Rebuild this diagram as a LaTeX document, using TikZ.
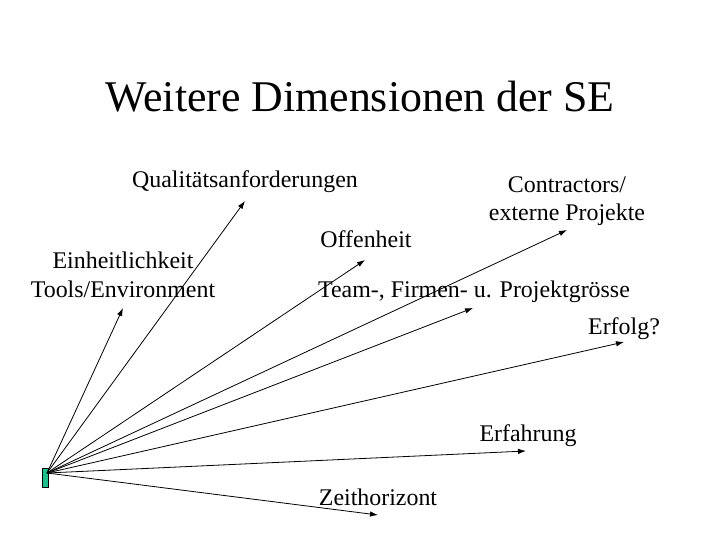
\documentclass[tikz,border=0pt]{standalone}
\usepackage{fontspec}
\setmainfont{LiberationSerif}[Extension=.ttf, UprightFont=*-Regular, BoldFont=*-Bold]
\usetikzlibrary{arrows.meta, positioning}
\definecolor{boxgreen}{RGB}{32,190,140}

\begin{document}
\begin{tikzpicture}[x=1bp, y=-1bp,
	lbl/.style={font=\fontsize{24}{29}\selectfont, align=center, inner sep=0pt, anchor=base},
	dim/.style={-{Latex[length=8bp, width=5.5bp]}, line width=0.8bp}]
	\useasboundingbox (0,0) rectangle (720,540);
	% title
	\node[font=\fontsize{44}{50}\selectfont, inner sep=0pt, anchor=base] (title) at (360,112) {Weitere Dimensionen der SE};
	% starting point
	\node[draw, fill=boxgreen, line width=0.6bp, minimum width=5.6bp, minimum height=19bp, inner sep=0pt] (box) at (45.5,477.5) {};
	\coordinate (o) at (47,473);
	% arrow ends
	\coordinate (qa) at (245,201);
	\coordinate (cp) at (567,230);
	\coordinate (eh) at (123,308);
	\coordinate (of) at (365,260);
	\coordinate (tm) at (473,308);
	\coordinate (ef) at (624,342);
	\coordinate (er) at (526,451);
	\coordinate (zh) at (378,515);
	% labels
	\node[lbl] (quali) at (245,188) {Qualitätsanforderungen};
	\node[lbl] (contr) at (567,221) {Contractors/\\externe Projekte};
	\node[lbl] (einh) at (123,297) {Einheitlichkeit\\Tools/Environment};
	\node[lbl] (offen) at (366,248) {Offenheit};
	\node[lbl] (team) at (474,297) {Team-, Firmen- u. Projektgrösse};
	\node[lbl] (erfolg) at (624,334) {Erfolg?};
	\node[lbl] (erfahr) at (528,441) {Erfahrung};
	\node[lbl] (zeit) at (378,505) {Zeithorizont};
	% dimensions
	\foreach \e in {qa, cp, eh, of, tm, ef, er, zh}
		\draw[dim] (o) -- (\e);
\end{tikzpicture}
\end{document}
